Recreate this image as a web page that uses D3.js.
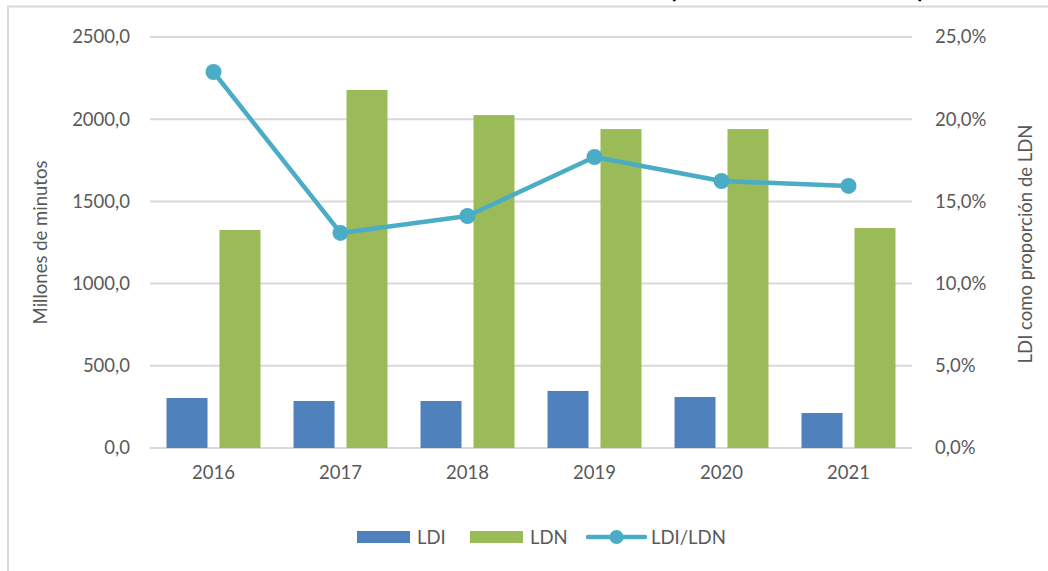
<!DOCTYPE html>
<html>
<head>
<meta charset="utf-8">
<script src="https://d3js.org/d3.v7.min.js"></script>
<style>
  body { margin: 0; background: #fff; }
  svg { display: block; }
  text { font-family: Lato, "Open Sans", sans-serif; fill: #595959; }
</style>
</head>
<body>
<div id="chart"></div>
<script>
// data
var years = ["2016", "2017", "2018", "2019", "2020", "2021"];
var ldi = [304, 286, 286, 347, 310, 213];
var ldn = [1326, 2178, 2025, 1940, 1940, 1338];
var ratio = [22.87, 13.08, 14.11, 17.70, 16.24, 15.94];
var series = ["LDI", "LDN"];
var leftTicks = [0, 500, 1000, 1500, 2000, 2500];
var rightTicks = [0, 5, 10, 15, 20, 25];

var colors = { LDI: "#4F81BD", LDN: "#9BBB59", line: "#4BACC6" };

var svgWidth = 1048;
var svgHeight = 571;

var svg = d3.select("#chart")
  .append("svg")
  .attr("width", svgWidth)
  .attr("height", svgHeight);

// chart area border (cut off at right and bottom)
svg.append("path")
  .attr("d", "M8,571 V6.5 H1048")
  .attr("fill", "none")
  .attr("stroke", "#d9d9d9")
  .attr("stroke-width", 2);

// title, mostly outside the picture
svg.append("text")
  .attr("x", 797)
  .attr("y", -3)
  .attr("text-anchor", "middle")
  .style("font-size", "30px")
  .style("font-weight", "bold")
  .style("fill", "#000")
  .text("(años 2016 – 2021)");

var plot = { left: 150, right: 912, top: 37, bottom: 448 };

var x0 = d3.scaleBand()
  .domain(years)
  .range([plot.left, plot.right]);

var x1 = d3.scaleBand()
  .domain(series)
  .range([x0.bandwidth() * 0.13, x0.bandwidth() * 0.87])
  .paddingInner(0.226);

var yLeft = d3.scaleLinear()
  .domain([0, 2500])
  .range([plot.bottom, plot.top]);

var yRight = d3.scaleLinear()
  .domain([0, 25])
  .range([plot.bottom, plot.top]);

var fmtNum = function(d) { return d3.format(".1f")(d).replace(".", ","); };
var fmtPct = function(d) { return d3.format(".1f")(d).replace(".", ",") + "%"; };

// gridlines
svg.append("g")
  .selectAll("line")
  .data(leftTicks)
  .enter()
  .append("line")
  .attr("x1", plot.left)
  .attr("x2", plot.right)
  .attr("y1", d => yLeft(d))
  .attr("y2", d => yLeft(d))
  .attr("stroke", "#d9d9d9")
  .attr("stroke-width", 2);

// left axis
var leftAxis = d3.axisLeft(yLeft).tickValues(leftTicks).tickFormat(fmtNum).tickSize(0).tickPadding(20);
var gLeft = svg.append("g")
  .attr("transform", `translate(${plot.left}, 0)`)
  .call(leftAxis);
gLeft.select(".domain").remove();
gLeft.selectAll("text").style("font-size", "18.5px").style("font-family", null);

// right axis
var rightAxis = d3.axisRight(yRight).tickValues(rightTicks).tickFormat(fmtPct).tickSize(0).tickPadding(23);
var gRight = svg.append("g")
  .attr("transform", `translate(${plot.right}, 0)`)
  .call(rightAxis);
gRight.select(".domain").remove();
gRight.selectAll("text").style("font-size", "18.5px").style("font-family", null);

// bottom axis
var bottomAxis = d3.axisBottom(x0).tickSize(0).tickPadding(18);
var gBottom = svg.append("g")
  .attr("transform", `translate(0, ${plot.bottom})`)
  .call(bottomAxis);
gBottom.select(".domain").remove();
gBottom.selectAll("text").style("font-size", "18.5px").style("font-family", null);

// bars
var barData = years.map(function(y, i) {
  return { year: y, values: [{ key: "LDI", value: ldi[i] }, { key: "LDN", value: ldn[i] }] };
});

svg.append("g")
  .selectAll("g")
  .data(barData)
  .enter()
  .append("g")
  .attr("transform", d => `translate(${x0(d.year)}, 0)`)
  .selectAll("rect")
  .data(d => d.values)
  .enter()
  .append("rect")
  .attr("x", d => x1(d.key))
  .attr("width", x1.bandwidth())
  .attr("y", d => yLeft(d.value))
  .attr("height", d => yLeft(0) - yLeft(d.value))
  .attr("fill", d => colors[d.key]);

// ratio line
var lineData = years.map((y, i) => ({ year: y, value: ratio[i] }));
var line = d3.line()
  .x(d => x0(d.year) + x0.bandwidth() / 2)
  .y(d => yRight(d.value));

svg.append("path")
  .datum(lineData)
  .attr("d", line)
  .attr("fill", "none")
  .attr("stroke", colors.line)
  .attr("stroke-width", 4.5)
  .attr("stroke-linejoin", "round");

svg.append("g")
  .selectAll("circle")
  .data(lineData)
  .enter()
  .append("circle")
  .attr("cx", d => x0(d.year) + x0.bandwidth() / 2)
  .attr("cy", d => yRight(d.value))
  .attr("r", 8)
  .attr("fill", colors.line);

// axis titles
svg.append("text")
  .attr("transform", "rotate(-90)")
  .attr("x", -(plot.top + plot.bottom) / 2)
  .attr("y", 47)
  .attr("text-anchor", "middle")
  .style("font-size", "18.5px")
  .text("Millones de minutos");

svg.append("text")
  .attr("transform", "rotate(-90)")
  .attr("x", -244)
  .attr("y", 1032)
  .attr("text-anchor", "middle")
  .style("font-size", "18.5px")
  .text("LDI como proporción de LDN");

// legend
var legend = svg.append("g").attr("transform", "translate(0, 537)");

legend.append("rect").attr("x", 357).attr("y", -6).attr("width", 53).attr("height", 12).attr("fill", colors.LDI);
legend.append("text").attr("x", 417).attr("y", 7).style("font-size", "18.5px").text("LDI");

legend.append("rect").attr("x", 470).attr("y", -6).attr("width", 53).attr("height", 12).attr("fill", colors.LDN);
legend.append("text").attr("x", 530).attr("y", 7).style("font-size", "18.5px").text("LDN");

legend.append("line").attr("x1", 588).attr("x2", 645).attr("y1", 0).attr("y2", 0)
  .attr("stroke", colors.line).attr("stroke-width", 4.5).attr("stroke-linecap", "round");
legend.append("circle").attr("cx", 616.5).attr("cy", 0).attr("r", 7).attr("fill", colors.line);
legend.append("text").attr("x", 651).attr("y", 7).style("font-size", "18.5px").text("LDI/LDN");
</script>
</body>
</html>
